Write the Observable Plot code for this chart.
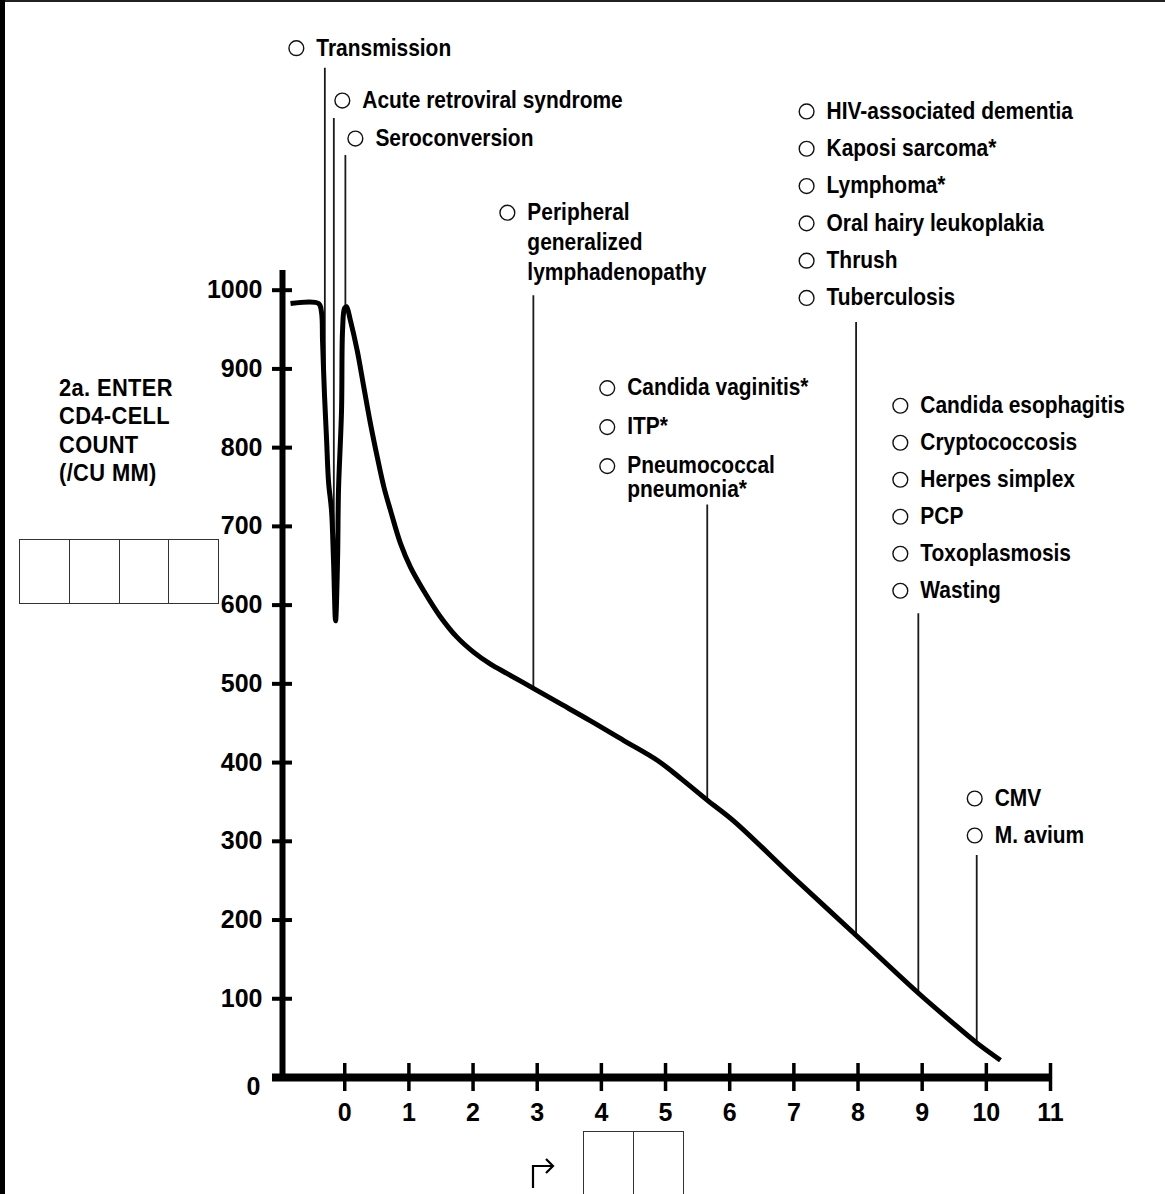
<!DOCTYPE html>
<html>
<head>
<meta charset="utf-8">
<script src="https://cdn.jsdelivr.net/npm/d3@7"></script>
<script src="https://cdn.jsdelivr.net/npm/@observablehq/plot@0.6"></script>
<style>
  html, body { margin: 0; padding: 0; background: #fff; }
  #wrap { position: relative; width: 1165px; height: 1194px; overflow: hidden; background: #fff; }
  #chart { position: absolute; left: 0; top: 0; }
  .frameTop { position: absolute; left: 0; top: 0; width: 1165px; height: 2px; background: #222; }
  .frameLeft { position: absolute; left: 0; top: 0; width: 5px; height: 1194px; background: #000; }
  .box { position: absolute; border: 1.5px solid #333; box-sizing: border-box; display: flex; }
  .box div { flex: 1; border-left: 1.5px solid #333; }
  .box div:first-child { border-left: none; }
  .ytitle { position: absolute; left: 59px; top: 374px; font: bold 23px "Liberation Sans", Arial, sans-serif; line-height: 28.3px; color: #000; white-space: nowrap; transform: scaleX(0.95); transform-origin: 0 0; letter-spacing: 0.4px; }
  #arrow { position: absolute; left: 0; top: 0; }
</style>
</head>
<body>
<div id="wrap">
  <div id="chart"></div>
  <div class="ytitle">2a. ENTER<br>CD4-CELL<br>COUNT<br>(/CU MM)</div>
  <div class="box" style="left:19px;top:539px;width:200px;height:65px;"><div></div><div></div><div></div><div></div></div>
  <div class="box" style="left:583px;top:1131px;width:101px;height:70px;"><div></div><div></div></div>
  <svg id="arrow" width="1165" height="1194" style="pointer-events:none">
    <path d="M533,1188 V1166 H553 M546,1159 L553,1166 L546,1173" fill="none" stroke="#000" stroke-width="2.2"/>
  </svg>
  <div class="frameTop"></div>
  <div class="frameLeft"></div>
</div>
<script>
// ---------------- data ----------------
const xTicks = [0, 1, 2, 3, 4, 5, 6, 7, 8, 9, 10, 11];
const yTicks = [100, 200, 300, 400, 500, 600, 700, 800, 900, 1000];

// CD4 course (years from seroconversion, cells / cu mm)
const curveYears = [-0.845, -0.408, -0.362, -0.346, -0.315, -0.284, -0.252, -0.206, -0.175, -0.143,
  -0.112, -0.097, -0.050, -0.034, -0.003, 0.028, 0.090, 0.195, 0.297, 0.402, 0.507, 0.610, 0.714,
  0.870, 1.026, 1.233, 1.493, 1.753, 2.012, 2.272, 2.533, 2.947, 3.312, 3.831, 4.350, 4.870, 5.250, 5.654,
  6.060, 6.995, 7.977, 8.943, 9.440, 9.850, 10.220];
const curveCD4 = [983, 983, 972, 936, 866, 812, 756, 720, 657, 580,
  657, 746, 847, 949, 977, 979, 961, 923, 877, 830, 788, 750, 720,
  678, 648, 618, 585, 559, 540, 525, 513, 494, 477, 453, 428, 403, 379, 352,
  326, 254, 180, 107, 72, 44, 22];

// events: year of marker line, top of the marker line (in CD4 units), labels
const eventYears = [-0.31, -0.17, 0.01, 2.94, 5.65, 7.97, 8.94, 9.85];
const eventTops = [1282, 1218, 1171, 993, 727, 959, 589, 282];
const eventLabels = [
  [["Transmission"]],
  [["Acute retroviral syndrome"]],
  [["Seroconversion"]],
  [["Peripheral", "generalized", "lymphadenopathy"]],
  [["Candida vaginitis*"], ["ITP*"], ["Pneumococcal", "pneumonia*"]],
  [["HIV-associated dementia"], ["Kaposi sarcoma*"], ["Lymphoma*"], ["Oral hairy leukoplakia"], ["Thrush"], ["Tuberculosis"]],
  [["Candida esophagitis"], ["Cryptococcosis"], ["Herpes simplex"], ["PCP"], ["Toxoplasmosis"], ["Wasting"]],
  [["CMV"], ["M. avium"]]
];

// ---------------- layout ----------------
const W = 1165, H = 1194;
const mL = 282, mR = 115, mT = 270, mB = 117;
const xDomain = [-0.97, 11];
const yDomain = [0, 1025];
const kx = (W - mL - mR) / (xDomain[1] - xDomain[0]);
const ky = (H - mT - mB) / (yDomain[1] - yDomain[0]);

// label block placement (pixels): circle shift from marker line, lift of first row above line top, row gap, wrapped-line gap
const labelLayout = [
  {shift: -28.5, lift: 20, gap: 0, wrap: 0},
  {shift: 8.5, lift: 18, gap: 0, wrap: 0},
  {shift: 10, lift: 17, gap: 0, wrap: 0},
  {shift: -26, lift: 83, gap: 0, wrap: 30},
  {shift: -100, lift: 117, gap: 39, wrap: 24},
  {shift: -49.5, lift: 211, gap: 37.3, wrap: 0},
  {shift: -18, lift: 208, gap: 37, wrap: 0},
  {shift: -2, lift: 57, gap: 37, wrap: 0}
];

const labelFont = '"Liberation Sans", Arial, Helvetica, sans-serif';
const numFont = 'Liberation Sans, Arial, sans-serif';
const condense = 0.91;

const curve = curveYears.map((x, i) => ({x, y: curveCD4[i]}));
function curveAt(x) {
  for (let i = 1; i < curve.length; i++) {
    if (x <= curve[i].x) {
      const a = curve[i - 1], b = curve[i];
      return a.y + (b.y - a.y) * (x - a.x) / (b.x - a.x);
    }
  }
  return curve[curve.length - 1].y;
}

const events = eventYears.map((x, i) => ({x, top: eventTops[i], bottom: curveAt(x)}));

const circles = [], lines = [];
eventLabels.forEach((rows, g) => {
  const L = labelLayout[g];
  const cx = eventYears[g] + L.shift / kx;
  rows.forEach((row, r) => {
    const off = L.lift - r * L.gap;
    circles.push({x: cx, y: eventTops[g] + off / ky});
    row.forEach((t, j) => {
      lines.push({x: cx, y: eventTops[g] + (off - j * L.wrap) / ky, text: t});
    });
  });
});

const chart = Plot.plot({
  width: W, height: H,
  marginLeft: mL, marginRight: mR, marginTop: mT, marginBottom: mB,
  x: {domain: xDomain, axis: null},
  y: {domain: yDomain, axis: null},
  style: {background: "transparent", overflow: "visible", color: "black"},
  marks: [
    // axes lines
    Plot.ruleX([xDomain[0]], {stroke: "black", strokeWidth: 6, insetBottom: -4}),
    Plot.ruleY([0], {stroke: "black", strokeWidth: 8, insetLeft: -10}),
    // ticks
    Plot.axisY(yTicks, {anchor: "left", tickSize: 20, dx: 10, fill: "none", stroke: "black", strokeWidth: 4, label: null}),
    Plot.axisX(xTicks, {anchor: "bottom", tickSize: 28, dy: -14, fill: "none", stroke: "black", strokeWidth: 3.5, label: null}),
    // tick labels
    Plot.axisY(yTicks, {anchor: "left", tickSize: 0, tickPadding: 20, stroke: "none", fill: "black",
      fontSize: 25, fontWeight: "bold", fontFamily: numFont, tickFormat: d => String(d), label: null}),
    Plot.axisX(xTicks, {anchor: "bottom", tickSize: 0, tickPadding: 26, stroke: "none", fill: "black",
      fontSize: 25, fontWeight: "bold", fontFamily: numFont, tickFormat: d => String(d), label: null}),
    Plot.text(["0"], {frameAnchor: "bottom-left", text: d => d, dx: -36, dy: 17, fontSize: 25,
      fontWeight: "bold", fontFamily: numFont, fill: "black"}),
    // event marker lines
    Plot.ruleX(events, {x: "x", y1: "bottom", y2: "top", stroke: "#1a1a1a", strokeWidth: 1.8}),
    // CD4 curve
    Plot.line(curve, {x: "x", y: "y", stroke: "black", strokeWidth: 5, curve: "catmull-rom", strokeLinejoin: "round", strokeLinecap: "butt"}),
    // labels
    Plot.dot(circles, {x: "x", y: "y", r: 7.4, fill: "white", stroke: "#111", strokeWidth: 1.4}),
    Plot.text(lines, {x: "x", y: "y", text: "text", dx: 20, textAnchor: "start", lineAnchor: "middle",
      fontSize: 23, fontWeight: "bold", fontFamily: labelFont, fill: "black"})
  ]
});

// condense the event label glyphs horizontally (the original uses a condensed face)
d3.select(chart).selectAll("g").filter(function () {
  return this.getAttribute("font-family") === labelFont;
}).selectAll("text").each(function () {
  const t = this.getAttribute("transform") || "";
  this.setAttribute("transform", t + ` scale(${condense},1)`);
});

document.getElementById("chart").appendChild(chart);
</script>
</body>
</html>
